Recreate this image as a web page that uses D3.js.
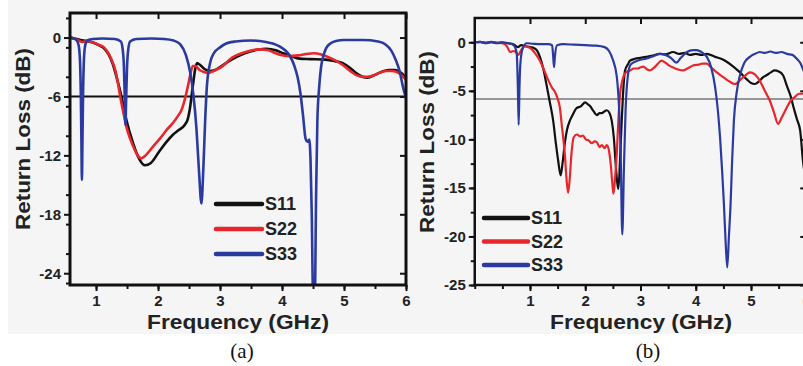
<!DOCTYPE html>
<html><head><meta charset="utf-8">
<script src="https://cdn.jsdelivr.net/npm/d3@7"></script>
<style>body{margin:0;background:#fff}svg{display:block}</style>
</head><body><svg id="c" width="803" height="366"></svg>
<script>
// ---------- data ----------
const seriesNames = ["S11", "S22", "S33"];
const seriesColors = ["#111111", "#e8262b", "#2a3aa0"];

// panel (a) – simulated
const aS11 = [[0.58,0],[0.65,-0.1],[0.75,-0.25],[0.85,-0.35],[0.95,-0.5],[1.05,-0.8],[1.12,-1.05],[1.2,-1.7],[1.27,-2.7],[1.33,-4.0],[1.41,-6.0],[1.49,-8.4],[1.6,-10.8],[1.7,-12.4],[1.79,-13.0],[1.88,-12.8],[2.03,-11.5],[2.14,-10.6],[2.24,-9.9],[2.34,-9.4],[2.43,-8.9],[2.48,-8.3],[2.51,-7.4],[2.56,-5.0],[2.6,-3.2],[2.63,-2.6],[2.68,-2.8],[2.75,-3.2],[2.83,-3.4],[2.92,-3.3],[3.0,-3.0],[3.2,-2.2],[3.4,-1.6],[3.6,-1.25],[3.75,-1.15],[3.9,-1.3],[4.02,-1.6],[4.15,-1.9],[4.28,-2.15],[4.45,-2.2],[4.7,-2.25],[4.85,-2.4],[4.98,-2.6],[5.1,-3.1],[5.19,-3.6],[5.3,-4.0],[5.38,-4.1],[5.5,-3.8],[5.6,-3.5],[5.72,-3.3],[5.82,-3.3],[5.92,-3.6],[6.0,-4.1]];
const aS22 = [[0.58,0],[0.65,-0.1],[0.72,-0.3],[0.78,-0.45],[0.85,-0.35],[0.95,-0.5],[1.05,-0.75],[1.12,-0.95],[1.2,-1.6],[1.26,-2.4],[1.31,-3.3],[1.35,-4.5],[1.39,-6.0],[1.44,-7.6],[1.49,-9.1],[1.55,-10.3],[1.6,-11.1],[1.67,-12.0],[1.73,-12.3],[1.8,-12.0],[1.92,-11.1],[2.03,-10.3],[2.14,-9.4],[2.24,-8.7],[2.32,-8.0],[2.37,-7.5],[2.40,-7.0],[2.44,-6.1],[2.48,-5.0],[2.52,-3.8],[2.56,-2.9],[2.6,-2.9],[2.67,-3.3],[2.74,-3.5],[2.81,-3.6],[2.9,-3.4],[3.0,-3.1],[3.21,-2.0],[3.4,-1.5],[3.64,-1.2],[3.78,-1.3],[3.9,-1.6],[4.0,-1.8],[4.12,-1.9],[4.28,-1.8],[4.42,-1.65],[4.52,-1.6],[4.62,-1.7],[4.71,-1.9],[4.85,-2.3],[4.98,-2.8],[5.1,-3.4],[5.19,-3.8],[5.3,-4.0],[5.38,-4.0],[5.5,-3.8],[5.57,-3.6],[5.68,-3.4],[5.78,-3.4],[5.88,-3.6],[6.0,-4.3]];
const aS33 = [[0.58,0],[0.64,-0.1],[0.69,-0.3],[0.72,-0.8],[0.74,-2.2],[0.755,-6],[0.765,-11],[0.772,-14.5],[0.78,-11],[0.79,-6],[0.805,-2.2],[0.825,-0.8],[0.86,-0.3],[0.95,-0.15],[1.1,-0.1],[1.3,-0.15],[1.4,-0.4],[1.43,-1.2],[1.45,-3.0],[1.465,-6.5],[1.475,-8.9],[1.485,-6.5],[1.5,-3.0],[1.52,-1.2],[1.55,-0.4],[1.65,-0.15],[1.9,-0.1],[2.1,-0.15],[2.25,-0.3],[2.36,-0.7],[2.45,-1.8],[2.52,-3.6],[2.57,-5.8],[2.62,-9.3],[2.66,-13.5],[2.70,-16.9],[2.73,-13.5],[2.76,-8.5],[2.79,-4.8],[2.84,-2.6],[2.9,-1.6],[3.0,-1.0],[3.1,-0.6],[3.25,-0.4],[3.5,-0.3],[3.74,-0.45],[3.85,-0.6],[3.96,-0.9],[4.05,-1.3],[4.12,-1.8],[4.2,-2.9],[4.25,-4.0],[4.3,-5.8],[4.34,-8.0],[4.38,-10.3],[4.41,-10.6],[4.44,-10.4],[4.46,-12.5],[4.48,-18],[4.5,-26],[4.53,-26],[4.55,-16],[4.57,-8.5],[4.6,-5.0],[4.63,-3.0],[4.67,-1.8],[4.71,-1.1],[4.78,-0.6],[4.87,-0.35],[5.0,-0.25],[5.3,-0.25],[5.55,-0.4],[5.67,-0.7],[5.76,-1.3],[5.83,-2.2],[5.9,-3.5],[5.95,-5.0],[6.0,-6.2]];

// panel (b) – measured
const bS11 = [[0,0],[0.1,0.05],[0.2,-0.05],[0.3,0.05],[0.4,-0.05],[0.5,0],[0.6,-0.1],[0.7,-0.2],[0.78,-0.5],[0.84,-0.3],[0.92,-0.4],[1.0,-0.5],[1.07,-0.6],[1.12,-0.8],[1.18,-1.5],[1.24,-2.7],[1.3,-4.4],[1.36,-6.2],[1.42,-8.1],[1.47,-10.5],[1.51,-12.2],[1.555,-13.7],[1.59,-12.4],[1.63,-10.4],[1.67,-9.0],[1.72,-8.1],[1.78,-7.4],[1.84,-6.8],[1.92,-6.6],[2.0,-6.2],[2.05,-6.4],[2.09,-6.6],[2.15,-7.1],[2.21,-7.5],[2.26,-7.3],[2.3,-7.3],[2.35,-7.1],[2.39,-7.0],[2.44,-7.3],[2.48,-8.1],[2.52,-10.0],[2.55,-12.5],[2.6,-15.1],[2.63,-12.0],[2.66,-8.1],[2.69,-4.8],[2.72,-2.9],[2.77,-2.3],[2.81,-1.9],[2.9,-1.7],[3.0,-1.6],[3.1,-1.5],[3.2,-1.4],[3.35,-1.2],[3.45,-1.25],[3.59,-1.0],[3.7,-1.2],[3.8,-1.1],[3.9,-1.3],[4.0,-1.2],[4.1,-1.3],[4.2,-1.2],[4.35,-1.5],[4.46,-1.7],[4.56,-2.0],[4.68,-2.5],[4.8,-3.1],[4.92,-3.8],[5.0,-4.2],[5.07,-4.3],[5.15,-4.0],[5.22,-3.6],[5.28,-3.4],[5.36,-3.1],[5.43,-2.9],[5.5,-3.0],[5.58,-3.4],[5.65,-4.5],[5.72,-5.6],[5.77,-6.7],[5.83,-7.9],[5.89,-9.1],[5.94,-12.2],[6.0,-14.5]];
const bS22 = [[0,0],[0.1,0.05],[0.2,-0.05],[0.3,0],[0.4,-0.05],[0.5,-0.1],[0.58,-0.4],[0.64,-1.0],[0.7,-0.9],[0.76,-1.1],[0.79,-1.3],[0.84,-0.8],[0.91,-0.4],[0.97,-0.5],[1.03,-0.7],[1.1,-1.2],[1.18,-1.9],[1.25,-2.8],[1.33,-3.9],[1.4,-4.7],[1.45,-5.1],[1.5,-5.8],[1.54,-6.7],[1.58,-8.8],[1.63,-11.5],[1.66,-14.0],[1.69,-15.5],[1.72,-14.0],[1.75,-11.5],[1.79,-9.8],[1.85,-9.5],[1.91,-9.7],[1.96,-9.6],[2.01,-10.0],[2.06,-10.1],[2.12,-10.4],[2.17,-10.2],[2.21,-10.3],[2.26,-10.8],[2.3,-10.6],[2.35,-10.9],[2.39,-10.6],[2.43,-11.2],[2.46,-12.5],[2.49,-14.5],[2.51,-15.6],[2.54,-14.0],[2.57,-11.5],[2.6,-8.0],[2.63,-5.3],[2.67,-4.0],[2.7,-3.4],[2.76,-3.0],[2.81,-2.9],[2.88,-2.7],[2.95,-2.7],[2.99,-2.6],[3.05,-2.5],[3.12,-2.8],[3.17,-2.9],[3.23,-2.7],[3.3,-2.3],[3.38,-1.9],[3.45,-2.1],[3.52,-2.4],[3.59,-2.6],[3.68,-2.8],[3.77,-2.9],[3.85,-2.7],[3.95,-2.4],[4.05,-2.3],[4.12,-2.2],[4.2,-2.2],[4.28,-2.6],[4.38,-3.1],[4.5,-3.6],[4.6,-4.0],[4.71,-4.3],[4.8,-3.9],[4.9,-3.4],[4.98,-3.1],[5.07,-3.3],[5.13,-3.7],[5.19,-4.3],[5.26,-5.1],[5.34,-6.0],[5.42,-7.3],[5.49,-8.4],[5.56,-7.7],[5.65,-6.7],[5.72,-6.0],[5.8,-5.6],[5.87,-5.3],[5.94,-5.3],[6.0,-5.4]];
const bS33 = [[0,0],[0.1,0],[0.2,-0.1],[0.3,0],[0.4,-0.1],[0.5,-0.05],[0.6,-0.1],[0.68,-0.2],[0.73,-0.5],[0.76,-1.2],[0.78,-4.5],[0.795,-8.5],[0.81,-4.5],[0.83,-1.9],[0.87,-0.6],[0.94,-0.1],[1.05,-0.15],[1.2,-0.2],[1.33,-0.2],[1.4,-0.3],[1.42,-1.5],[1.435,-2.55],[1.45,-1.5],[1.49,-0.3],[1.6,-0.2],[1.8,-0.25],[2.0,-0.3],[2.2,-0.35],[2.35,-0.5],[2.43,-0.9],[2.5,-1.8],[2.57,-3.5],[2.61,-6.5],[2.64,-11],[2.67,-19.8],[2.7,-13],[2.73,-7.0],[2.77,-3.5],[2.82,-2.3],[2.9,-2.0],[3.0,-1.8],[3.1,-1.7],[3.2,-1.5],[3.35,-1.2],[3.45,-1.3],[3.55,-1.6],[3.65,-2.1],[3.73,-1.6],[3.84,-1.0],[3.95,-0.8],[4.02,-0.8],[4.1,-1.0],[4.2,-1.5],[4.28,-2.6],[4.35,-4.6],[4.4,-7.0],[4.44,-9.8],[4.48,-13.5],[4.51,-16.7],[4.54,-20.5],[4.57,-23.2],[4.6,-20],[4.63,-16.7],[4.66,-12],[4.69,-8.1],[4.74,-5.2],[4.8,-3.4],[4.88,-2.1],[4.98,-1.5],[5.07,-1.2],[5.16,-1.0],[5.25,-1.1],[5.35,-0.95],[5.45,-1.1],[5.55,-1.0],[5.65,-1.2],[5.75,-1.3],[5.83,-1.7],[5.9,-2.2],[5.95,-2.9],[6.0,-3.6]];

const aXTicks = [1, 2, 3, 4, 5, 6];
const aYTicks = [0, -6, -12, -18, -24];
const bXTicks = [1, 2, 3, 4, 5, 6];
const bYTicks = [0, -5, -10, -15, -20, -25];
const aThreshold = -6;
const bThreshold = -5.85;
const xTitle = "Frequency (GHz)";
const yTitle = "Return Loss (dB)";
const captions = ["(a)", "(b)"];

// ---------- drawing ----------
const svg = d3.select("#c");
svg.append("rect").attr("x", 8).attr("y", 0).attr("width", 795).attr("height", 334).attr("fill", "#f5f5f5");

function panel(o) {
  const g = svg.append("g");
  const x = d3.scaleLinear().domain(o.xd).range([o.x0, o.x1]);
  const y = d3.scaleLinear().domain(o.yd).range([o.y1, o.y0]);
  const id = "clip" + o.key;
  g.append("clipPath").attr("id", id).append("rect")
    .attr("x", o.x0).attr("y", o.y0).attr("width", o.x1 - o.x0).attr("height", o.y1 - o.y0);

  // minor ticks
  const xMinor = d3.range(Math.ceil(o.xd[0] * 2) / 2, o.xd[1] + 0.001, 0.5);
  const yMinor = d3.range(o.yd[0] <= -25 ? -25 : Math.ceil(o.yd[0] / o.ymin) * o.ymin, o.yd[1], o.ymin);
  const tstyle = sel => { sel.select(".domain").remove(); sel.selectAll("line").attr("stroke", "#111").attr("stroke-width", 2); };
  g.append("g").attr("transform", `translate(0,${o.y1})`).call(d3.axisBottom(x).tickValues(xMinor).tickSize(4).tickFormat("")).call(tstyle);
  g.append("g").attr("transform", `translate(${o.x0},0)`).call(d3.axisLeft(y).tickValues(yMinor).tickSize(4).tickFormat("")).call(tstyle);
  g.append("g").attr("transform", `translate(0,${o.y0})`).call(d3.axisTop(x).tickValues(o.xt).tickSize(-6).tickFormat("")).call(tstyle);
  g.append("g").attr("transform", `translate(${o.x1},0)`).call(d3.axisRight(y).tickValues(o.yt).tickSize(-6).tickFormat("")).call(tstyle);

  const fontT = "bold 15px 'Liberation Sans', Arial, sans-serif";
  const ax = g.append("g").attr("transform", `translate(0,${o.y1})`)
    .call(d3.axisBottom(x).tickValues(o.xt).tickSize(6).tickPadding(4).tickFormat(d => String(d))).call(tstyle);
  ax.selectAll("text").style("font", fontT).attr("fill", "#222");
  const ay = g.append("g").attr("transform", `translate(${o.x0},0)`)
    .call(d3.axisLeft(y).tickValues(o.yt).tickSize(6).tickPadding(3).tickFormat(d => String(d))).call(tstyle);
  ay.selectAll("text").style("font", fontT).attr("fill", "#222");

  // threshold
  g.append("line").attr("x1", o.x0).attr("x2", o.x1).attr("y1", y(o.thr)).attr("y2", y(o.thr))
    .attr("stroke", o.thrColor).attr("stroke-width", o.thrW);

  const line = d3.line().x(d => x(d[0])).y(d => y(d[1])).curve(d3.curveMonotoneX);
  const lg = g.append("g").attr("clip-path", `url(#${id})`);
  o.series.forEach((s, i) => {
    lg.append("path").datum(s).attr("d", line).attr("fill", "none")
      .attr("stroke", seriesColors[i]).attr("stroke-width", o.lw).attr("stroke-linejoin", "round");
  });

  // frame
  g.append("rect").attr("x", o.x0).attr("y", o.y0).attr("width", o.x1 - o.x0).attr("height", o.y1 - o.y0)
    .attr("fill", "none").attr("stroke", "#111").attr("stroke-width", o.fw);

  // legend
  seriesNames.forEach((n, i) => {
    const yy = o.legY + i * o.legDy;
    g.append("line").attr("x1", o.legX).attr("x2", o.legX + o.legW).attr("y1", yy).attr("y2", yy)
      .attr("stroke", seriesColors[i]).attr("stroke-width", 4.5).attr("stroke-linecap", "round");
    g.append("text").attr("x", o.legX + o.legW + 3).attr("y", yy).attr("dy", "0.36em")
      .style("font", "bold 18px 'Liberation Sans', Arial, sans-serif").attr("fill", "#222").text(n);
  });

  // titles
  g.append("text").attr("x", o.xtX).attr("y", 329)
    .attr("text-anchor", "middle").attr("textLength", 182).attr("lengthAdjust", "spacingAndGlyphs")
    .style("font", "bold 21px 'Liberation Sans', Arial, sans-serif").attr("fill", "#222").text(xTitle);
  g.append("text").attr("transform", `translate(${o.ytX},${o.ytY}) rotate(-90)`).attr("dy", "0.35em")
    .attr("text-anchor", "middle").attr("textLength", 182).attr("lengthAdjust", "spacingAndGlyphs")
    .style("font", "bold 21px 'Liberation Sans', Arial, sans-serif").attr("fill", "#222").text(yTitle);
  g.append("text").attr("x", o.capX).attr("y", 358).attr("text-anchor", "middle")
    .style("font", "21px 'Liberation Serif', 'Times New Roman', serif").attr("fill", "#111").text(o.cap);
}

panel({key: "a", xd: [0.58, 6], yd: [-25.2, 2.5], x0: 70, x1: 406, y0: 13, y1: 285,
  xt: aXTicks, yt: aYTicks, ymin: 3, thr: aThreshold, thrColor: "#111", thrW: 2, lw: 2.6, fw: 3,
  series: [aS11, aS22, aS33], legX: 216, legY: 204, legDy: 25, legW: 46,
  xtX: 238, ytX: 23, ytY: 139, capX: 242, cap: captions[0]});
panel({key: "b", xd: [0, 6], yd: [-25, 2.5], x0: 474.75, x1: 806.25, y0: 18, y1: 285,
  xt: bXTicks, yt: bYTicks, ymin: 2.5, thr: bThreshold, thrColor: "#777", thrW: 1.5, lw: 2.2, fw: 2.5,
  series: [bS11, bS22, bS33], legX: 484, legY: 218, legDy: 23.5, legW: 44,
  xtX: 641, ytX: 427, ytY: 142, capX: 648, cap: captions[1]});
</script></body></html>
